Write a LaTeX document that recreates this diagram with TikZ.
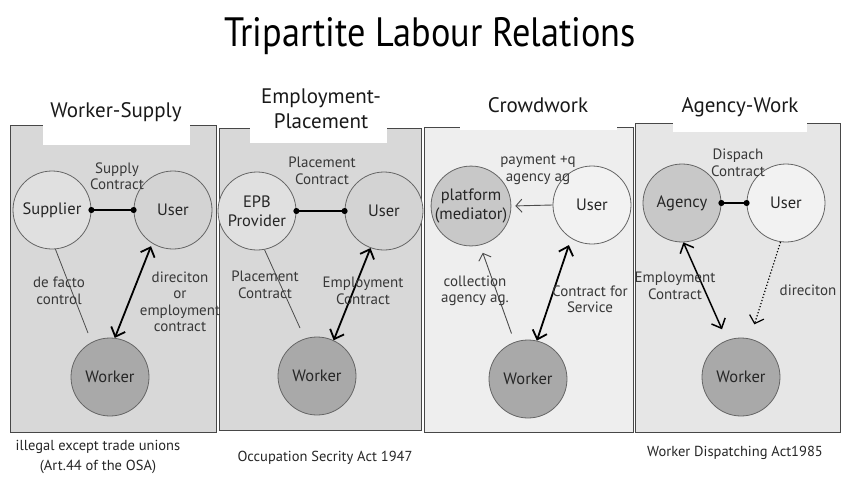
\documentclass[tikz,border=0pt]{standalone}
\usepackage{fontspec}
\setmainfont{PT Sans}
\usetikzlibrary{arrows.meta,calc}
\definecolor{pA}{HTML}{D8D8D8}
\definecolor{pC}{HTML}{EEEEEE}
\definecolor{pD}{HTML}{E6E6E6}
\definecolor{cLight}{HTML}{E0E0E0}
\definecolor{cMid}{HTML}{D3D3D3}
\definecolor{cGray}{HTML}{C8C8C8}
\definecolor{cWhite}{HTML}{F2F2F2}
\definecolor{cWork}{HTML}{A9A9A9}
\begin{document}
\begin{tikzpicture}[x=1pt,y=-1pt,
  panel/.style={draw=black!72, line width=1pt},
  tbox/.style={fill=white, draw=none},
  ptitle/.style={align=center, font=\fontsize{21}{25}\selectfont, text=black!90, inner sep=0pt},
  circ/.style={circle, draw=black!60, line width=0.8pt, minimum size=78pt, inner sep=0pt, align=center, font=\fontsize{16.5}{19}\selectfont, text=black!85},
  lbl/.style={align=center, font=\fontsize{15}{16.5}\selectfont, text=black!78, inner sep=0pt},
  foot/.style={align=center, font=\fontsize{14.5}{20}\selectfont, text=black!85, inner sep=0pt},
  dotline/.style={{Circle[length=6pt]}-{Circle[length=6pt]}, line width=1.5pt, shorten <=-3pt, shorten >=-3pt},
  thinline/.style={draw=black!70, line width=0.8pt},
  thinarrow/.style={draw=black!70, line width=0.9pt, -{Straight Barb[length=6pt,width=13pt]}},
  dbl/.style={{Straight Barb[length=8pt,width=15pt]}-{Straight Barb[length=8pt,width=15pt]}, line width=1.8pt},
  dottedarrow/.style={dotted, line width=1.2pt, -{Straight Barb[length=7pt,width=15pt]}}
]
\useasboundingbox (0,0) rectangle (860,493);
\fill[white] (0,0) rectangle (860,493);

% main title
\node[font=\fontsize{41}{46}\selectfont, text=black, inner sep=0pt] (title) at (430,36) {\scalebox{0.885}[1]{Tripartite Labour Relations}};

% panels
\filldraw[panel, fill=pA] (10,125) rectangle (216,432);
\filldraw[panel, fill=pA] (219,128) rectangle (421,430);
\filldraw[panel, fill=pC] (424,127) rectangle (633,432);
\filldraw[panel, fill=pD] (635,123) rectangle (840,432);

% title boxes
\fill[tbox] (43,95) rectangle (190,145);
\fill[tbox] (250,82) rectangle (387,143);
\fill[tbox] (460,92) rectangle (617,130);
\fill[tbox] (673,92) rectangle (807,132);

\node[ptitle] (t1) at (116,112) {Worker-Supply};
\node[ptitle] (t2) at (321,109) {Employment-\\Placement};
\node[ptitle] (t3) at (538,105) {Crowdwork};
\node[ptitle] (t4) at (740,107) {Agency-Work};

% panel 1
\node[circ, fill=cLight] (sup) at (52,210) {Supplier};
\node[circ, fill=cMid] (u1) at (173,210) {User};
\node[circ, fill=cWork] (w1) at (110,377) {Worker};
\coordinate (c1) at (88,333);
\draw[dotline] (sup.east) -- (u1.west);
\draw[thinline] (sup.-85) -- (c1);
\draw[dbl, shorten <=3pt] (u1.238) -- (w1.83);
\node[lbl] (l1a) at (117,176) {Supply\\Contract};
\node[lbl] (l1b) at (59,291) {de facto\\control};
\node[lbl] (l1c) at (180,302) {direciton\\or\\employment\\contract};

% panel 2
\node[circ, fill=cLight] (epb) at (257,211) {EPB\\Provider};
\node[circ, fill=cMid] (u2) at (384,211) {User};
\node[circ, fill=cWork] (w2) at (317,376) {Worker};
\coordinate (c2) at (300,328);
\draw[dotline] (epb.east) -- (u2.west);
\draw[thinline] (epb.-79) -- (c2);
\draw[dbl] (u2.-110) -- (w2.65);
\node[lbl] (l2a) at (322,171) {Placement\\Contract};
\node[lbl] (l2b) at (265,285) {Placement\\Contract};
\node[lbl] (l2c) at (363,291) {Employment\\Contract};

% panel 3
\node[circ, fill=cGray] (plat) at (471,206) {platform\\(mediator)};
\node[circ, fill=cWhite] (u3) at (592,205) {User};
\node[circ, fill=cWork] (w3) at (528,379) {Worker};
\draw[thinarrow, shorten >=4pt] (u3.west) -- (plat.east);
\draw[thinarrow, shorten <=9pt, shorten >=8pt] (w3.110) -- (plat.-77);
\draw[dbl, shorten <=7pt] (u3.-122) -- (w3.77);
\node[lbl] (l3a) at (538,170) {payment +q\\agency ag};
\node[lbl] (l3b) at (475,291) {collection\\agency ag.};
\node[lbl] (l3c) at (590,299) {Contract for\\Service};

% panel 4
\node[circ, fill=cGray] (ag) at (682,203) {Agency};
\node[circ, fill=cWhite] (u4) at (786,203) {User};
\node[circ, fill=cWork] (w4) at (741,377) {Worker};
\draw[dotline] (ag.east) -- (u4.west);
\draw[dbl, line width=1.5pt, shorten >=12pt] (ag.-88) -- (w4.111);
\draw[dottedarrow, shorten >=15pt] (u4.-98) -- (w4.77);
\node[lbl] (l4a) at (738,163) {Dispach\\Contract};
\node[lbl] (l4b) at (675,286) {Employment\\Contract};
\node[lbl] (l4c) at (808,290) {direciton};

% footers
\node[foot] (f1) at (98,457) {illegal except trade unions\\(Art.44 of the OSA)};
\node[foot] (f2) at (325,458) {Occupation Secrity Act 1947};
\node[foot] (f3) at (735,453) {Worker Dispatching Act1985};
\end{tikzpicture}
\end{document}
